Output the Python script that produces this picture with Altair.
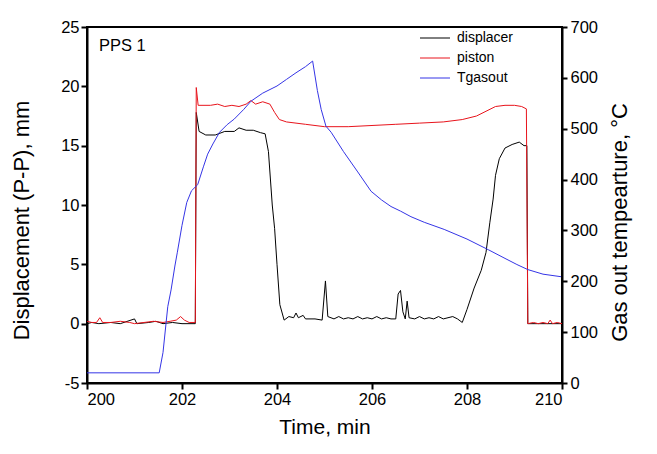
import altair as alt
import pandas as pd

# ---------------- data ----------------
series_names = ["displacer", "piston", "Tgasout"]
series_colors = ["#000000", "#e8141c", "#3535e6"]

disp_t = [200.0, 200.1, 200.25, 200.5, 200.7, 201.0, 201.05, 201.3, 201.45, 201.6, 201.8, 202.0, 202.28,
          202.3, 202.36, 202.5, 202.7, 202.9, 203.1, 203.2, 203.35, 203.5, 203.65, 203.75, 203.82, 203.9,
          203.95, 204.0, 204.06, 204.15, 204.25, 204.35, 204.4, 204.45, 204.55, 204.6, 204.8, 204.95,
          205.02, 205.07, 205.2, 205.3, 205.4, 205.5, 205.6, 205.7, 205.8, 205.9, 206.0, 206.1, 206.2,
          206.3, 206.4, 206.5, 206.55, 206.6, 206.65, 206.7, 206.74, 206.78, 206.9, 207.0, 207.1, 207.2,
          207.3, 207.4, 207.5, 207.6, 207.7, 207.8, 207.9, 208.0, 208.15, 208.3, 208.4, 208.48, 208.55,
          208.6, 208.68, 208.8, 208.95, 209.1, 209.2, 209.26, 209.28, 209.5, 209.8, 210.0]
disp_v = [0.0, 0.1, 0.0, 0.1, 0.0, 0.4, 0.0, 0.1, 0.2, 0.0, 0.1, 0.0, 0.0,
          17.8, 16.2, 15.9, 15.9, 16.2, 16.2, 16.5, 16.3, 16.3, 16.1, 16.0, 14.5, 10.0,
          8.0, 5.0, 1.6, 0.3, 0.6, 0.5, 0.9, 0.5, 0.7, 0.4, 0.4, 0.3,
          3.6, 0.6, 0.4, 0.6, 0.4, 0.5, 0.4, 0.6, 0.4, 0.5, 0.4, 0.6, 0.4,
          0.5, 0.4, 0.4, 2.5, 2.8, 1.0, 0.4, 1.9, 0.5, 0.4, 0.6, 0.4, 0.5,
          0.4, 0.6, 0.4, 0.5, 0.6, 0.4, 0.1, 1.2, 3.0, 4.5, 6.0, 8.5, 10.5,
          12.5, 13.9, 14.8, 15.1, 15.3, 15.0, 15.0, 0.0, 0.0, 0.0, 0.0]

pist_t = [200.0, 200.1, 200.2, 200.27, 200.33, 200.5, 200.7, 200.9, 201.0, 201.2, 201.4, 201.6, 201.75,
          201.88, 201.97, 202.05, 202.15, 202.28, 202.3, 202.34, 202.6, 202.75, 202.9, 203.05, 203.2,
          203.35, 203.45, 203.55, 203.7, 203.85, 203.95, 204.05, 204.2, 204.4, 204.6, 205.0, 205.5,
          206.0, 206.5, 207.0, 207.5, 207.9, 208.2, 208.4, 208.6, 208.8, 209.0, 209.15, 209.25, 209.28,
          209.4, 209.5, 209.6, 209.7, 209.75, 209.8, 209.9, 210.0]
pist_v = [0.2, 0.1, 0.1, 0.5, 0.1, 0.1, 0.2, 0.1, 0.0, 0.1, 0.2, 0.1, 0.2,
          0.3, 0.6, 0.3, 0.1, 0.1, 19.9, 18.4, 18.4, 18.5, 18.3, 18.4, 18.3,
          18.5, 18.8, 18.5, 18.7, 18.5, 17.8, 17.2, 17.0, 16.9, 16.8, 16.6, 16.6,
          16.7, 16.8, 16.9, 17.0, 17.2, 17.5, 17.9, 18.3, 18.4, 18.4, 18.3, 18.1, 0.0,
          0.1, 0.0, 0.1, 0.0, 0.3, 0.0, 0.1, 0.0]

temp_t = [200.0, 201.52, 201.6, 201.7, 201.77, 201.85, 201.9, 202.0, 202.1, 202.2, 202.33, 202.45,
          202.54, 202.65, 202.79, 202.95, 203.1, 203.3, 203.45, 203.7, 204.0, 204.2, 204.4, 204.6,
          204.75, 204.85, 204.93, 205.03, 205.14, 205.4, 205.7, 205.98, 206.2, 206.4, 206.6, 206.82,
          207.1, 207.52, 208.0, 208.45, 208.8, 209.05, 209.28, 209.6, 209.98]
temp_v = [20, 20, 60, 150, 183, 230, 256, 310, 355, 378, 390, 425,
          450, 470, 493, 508, 519, 538, 554, 570, 584, 597, 610, 622,
          633, 575, 538, 505, 493, 455, 415, 377, 360, 347, 338, 327,
          316, 302, 283, 262, 245, 233, 223, 214, 209]

x_domain = [200, 210]
left_domain = [-5, 25]
right_domain = [0, 700]
x_major = [200, 202, 204, 206, 208, 210]
left_major = [-5, 0, 5, 10, 15, 20, 25]
right_major = [0, 100, 200, 300, 400, 500, 600, 700]

ann_t = [200.25]
ann_v = [23.4]
ann_text = ["PPS 1"]

# ---------------- frames ----------------
lines_df = pd.DataFrame({
    "t": disp_t + pist_t,
    "v": disp_v + pist_v,
    "s": ["displacer"] * len(disp_t) + ["piston"] * len(pist_t),
})
temp_df = pd.DataFrame({"t": temp_t, "v": temp_v, "s": "Tgasout"})
ann_df = pd.DataFrame({"t": ann_t, "v": ann_v, "label": ann_text})

FONT = "Liberation Sans"
W, H = 475, 356
MINUS_FIX = "replace(datum.label, '\u2212', '-')"

xs = alt.Scale(domain=x_domain, nice=False, zero=False)
yl = alt.Scale(domain=left_domain, nice=False, zero=False)
yr = alt.Scale(domain=right_domain, nice=False, zero=False)

color = alt.Color(
    "s:N",
    scale=alt.Scale(domain=series_names, range=series_colors),
    legend=alt.Legend(
        title=None, orient="none", legendX=341, legendY=4,
        symbolType="M-3,0H3", symbolSize=100, symbolStrokeWidth=1,
        labelFont=FONT, labelFontSize=14, labelOffset=15, rowPadding=6,
        padding=0, labelColor="black",
    ),
)

main_x_axis = alt.Axis(
    values=x_major, format="d", ticks=True, tickSize=6, tickWidth=2, tickColor="black",
    labelFont=FONT, labelFontSize=16.5, labelPadding=2, labelColor="black",
    domainColor="black", domainWidth=2, grid=False,
    title="Time, min", titleFont=FONT, titleFontSize=21, titleFontWeight="normal",
    titlePadding=9, titleColor="black",
)
left_axis = alt.Axis(
    values=left_major, format="d", labelExpr=MINUS_FIX,
    ticks=True, tickSize=6, tickWidth=2, tickColor="black",
    labelFont=FONT, labelFontSize=16.5, labelPadding=2, labelColor="black",
    domainColor="black", domainWidth=2, grid=False,
    title="Displacement (P-P), mm", titleFont=FONT, titleFontSize=22,
    titleFontWeight="normal", titlePadding=27, titleColor="black", titleY=193,
)
right_axis = alt.Axis(
    orient="right", values=right_major, format="d",
    ticks=True, tickSize=5, tickWidth=2, tickColor="black",
    labelFont=FONT, labelFontSize=16.5, labelPadding=3, labelColor="black",
    domainColor="black", domainWidth=2, grid=False,
    title="Gas out tempearture, °C", titleFont=FONT, titleFontSize=22,
    titleFontWeight="normal", titlePadding=12, titleColor="black",
    titleAngle=270, titleBaseline="top", titleY=195,
)

X = alt.X("t:Q", scale=xs, axis=main_x_axis)
YL = alt.Y("v:Q", scale=yl, axis=left_axis)
YR = alt.Y("v:Q", scale=yr, axis=right_axis)

# ---------- left group (displacement scale) ----------
left_lines = alt.Chart(lines_df).mark_line(strokeWidth=1).encode(x=X, y=YL, color=color)

annotation = alt.Chart(ann_df).mark_text(
    align="left", baseline="middle", font=FONT, fontSize=16.5, color="black"
).encode(x=X, y=YL, text="label:N")

left_group = alt.layer(left_lines, annotation)

# ---------- right group (temperature scale) ----------
right_line = alt.Chart(temp_df).mark_line(strokeWidth=1).encode(x=X, y=YR, color=color)

chart = alt.layer(left_group, right_line).resolve_scale(y="independent").properties(
    width=W, height=H,
    padding={"left": 2, "top": 11, "right": 5, "bottom": 5},
).configure_view(stroke="black", strokeWidth=2)

chart.save("out.html", embed_options={"renderer": "svg", "actions": False})
